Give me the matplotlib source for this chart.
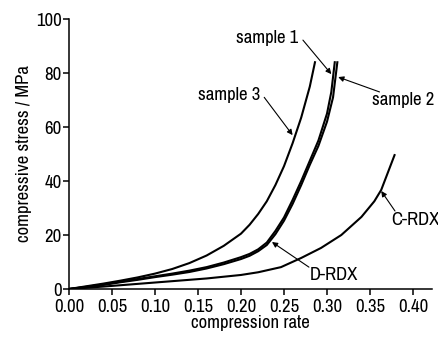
import matplotlib
matplotlib.use("Agg")
import matplotlib.pyplot as plt

plt.rcParams['font.family'] = ['Archivo Narrow', 'Liberation Sans', 'DejaVu Sans']

# data
s1_x = [0, 0.02, 0.04, 0.06, 0.08, 0.10, 0.12, 0.14, 0.16, 0.18, 0.20, 0.21, 0.22, 0.23,
        0.24, 0.25, 0.26, 0.27, 0.28, 0.29, 0.30, 0.305, 0.309]
s1_y = [0, 0.8, 1.7, 2.7, 3.7, 4.7, 5.7, 6.8, 8.1, 9.8, 11.8, 13.0, 14.7, 17.2,
        21.5, 26.5, 33.0, 40.0, 47.5, 55.0, 65.0, 73.0, 84.0]

s2_x = [0, 0.02, 0.04, 0.06, 0.08, 0.10, 0.12, 0.14, 0.16, 0.18, 0.20, 0.21, 0.22, 0.23,
        0.24, 0.25, 0.26, 0.27, 0.28, 0.29, 0.30, 0.307, 0.312]
s2_y = [0, 0.7, 1.5, 2.5, 3.4, 4.4, 5.3, 6.3, 7.6, 9.2, 11.1, 12.3, 14.0, 16.3,
        20.3, 25.3, 31.5, 38.5, 46.0, 53.0, 62.0, 71.0, 84.0]

s3_x = [0, 0.02, 0.04, 0.06, 0.08, 0.10, 0.12, 0.14, 0.16, 0.18, 0.20, 0.21, 0.22,
        0.23, 0.24, 0.25, 0.26, 0.27, 0.28, 0.286]
s3_y = [0, 1.0, 2.0, 3.1, 4.3, 5.7, 7.4, 9.6, 12.4, 16.0, 20.5, 23.8, 27.8,
        32.5, 38.5, 45.5, 54.0, 63.5, 75.0, 84.0]

c_x = [0, 0.04, 0.08, 0.12, 0.16, 0.20, 0.22, 0.2465, 0.27, 0.293, 0.3166, 0.34,
       0.355, 0.363, 0.3785]
c_y = [0, 0.9, 1.9, 2.9, 3.9, 5.2, 6.2, 8.1, 11.5, 15.2, 20.0, 26.7,
       32.5, 36.7, 49.6]

x_ticks = [0.00, 0.05, 0.10, 0.15, 0.20, 0.25, 0.30, 0.35, 0.40]
y_ticks = [0, 20, 40, 60, 80, 100]

fig = plt.figure(figsize=(4.39, 3.40), dpi=100)
ax = fig.add_axes([0.157, 0.15, 0.827, 0.794])

for xs, ys in [(s1_x, s1_y), (s2_x, s2_y), (s3_x, s3_y), (c_x, c_y)]:
    ax.plot(xs, ys, color='black', lw=1.5)

ax.set_xlim(0, 0.422)
ax.set_ylim(0, 100)
ax.set_xticks(x_ticks)
ax.set_xticklabels([f"{t:.2f}" for t in x_ticks])
ax.set_yticks(y_ticks)

for side in ['top', 'right']:
    ax.spines[side].set_visible(False)
for side in ['left', 'bottom']:
    ax.spines[side].set_linewidth(1.1)

ax.tick_params(direction='out', length=4, width=1.1, labelsize=13.5, pad=1)
ax.tick_params(axis='x', pad=3)
ax.set_xlabel('compression rate', fontsize=13.5, labelpad=0)
ax.set_ylabel('compressive stress / MPa', fontsize=13.5, labelpad=3)

arrow = dict(arrowstyle='-|>', color='black', lw=0.8, mutation_scale=8, shrinkA=0, shrinkB=0)

# labels
ax.text(0.230, 93, 'sample 1', fontsize=13.5, ha='center', va='center')
ax.annotate('', xy=(0.305, 79.6), xytext=(0.272, 92.2), arrowprops=arrow)

ax.text(0.388, 70, 'sample 2', fontsize=13.5, ha='center', va='center')
ax.annotate('', xy=(0.313, 78.5), xytext=(0.361, 73.0), arrowprops=arrow)

ax.text(0.186, 72, 'sample 3', fontsize=13.5, ha='center', va='center')
ax.annotate('', xy=(0.260, 57.0), xytext=(0.227, 71.0), arrowprops=arrow)

ax.text(0.308, 5.2, 'D-RDX', fontsize=13.5, ha='center', va='center')
ax.annotate('', xy=(0.236, 17.4), xytext=(0.279, 8.1), arrowprops=arrow)

ax.text(0.375, 25.6, 'C-RDX', fontsize=13.5, ha='left', va='center', clip_on=False)
ax.annotate('', xy=(0.363, 36.3), xytext=(0.379, 28.9), arrowprops=arrow, annotation_clip=False)

fig.savefig('out.png', dpi=100)
